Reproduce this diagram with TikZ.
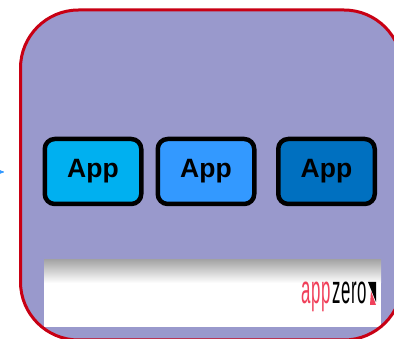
\documentclass[tikz,border=0pt]{standalone}
\usepackage{fontspec}
\setmainfont{Liberation Sans}
\newfontfamily\logofont[LetterSpace=4]{Liberation Sans}
\usetikzlibrary{positioning,arrows}
\definecolor{panelfill}{HTML}{9999CC}
\definecolor{panelline}{HTML}{C80014}
\definecolor{appone}{HTML}{00B0F0}
\definecolor{apptwo}{HTML}{3399FF}
\definecolor{appthree}{HTML}{0070C0}
\definecolor{logored}{HTML}{F0405A}
\tikzset{
  app node/.style={draw=black,line width=4.5pt,rounded corners=10pt,minimum width=96.5pt,
    minimum height=65pt,inner sep=0pt,outer sep=0pt,font=\fontsize{26.5}{26.5}\selectfont\bfseries},
  logo text/.style={inner sep=0pt,outer sep=0pt,xscale=0.42,font=\logofont\fontsize{40}{40}\selectfont}
}
\begin{document}
\begin{tikzpicture}[x=1pt,y=-1pt,>=stealth']
   \useasboundingbox (0,0) rectangle (394,339);
   \path[fill=panelfill,rounded corners=58pt] (20.5,10) rectangle (402,340);
   \begin{scope}
     \clip[rounded corners=58pt] (20.5,10) rectangle (402,340);
     \fill[white] (44,283) rectangle (381,327);
     \shade[top color=black!35,bottom color=white] (44,260) rectangle (381,283);
   \end{scope}
   \draw[panelline,line width=3pt,rounded corners=58pt] (20.5,10) rectangle (402,340);
   \node[app node,fill=appone] (app_1) at (93,171.5) {App};
   \node[app node,fill=apptwo] (app_2) [right=16.5pt of app_1] {App};
   \node[app node,fill=appthree] (app_3) [right=24pt of app_2] {App};
   \coordinate (feed) at (-12,172);
   \coordinate (feed_end) at (4,172);
   \draw[->,apptwo,line width=1pt] (feed) -- (feed_end);
   \node[logo text,text=logored,anchor=base west] (logo_app) at (301.5,304) {app};
   \node[logo text,text=black,anchor=base west] (logo_zero) at (332,304) {zero};
   \fill[black] (368,282) -- (376,282) -- (376,302) -- cycle;
   \fill[logored] (371,291) -- (376,305) -- (370,305) -- cycle;
\end{tikzpicture}
\end{document}
